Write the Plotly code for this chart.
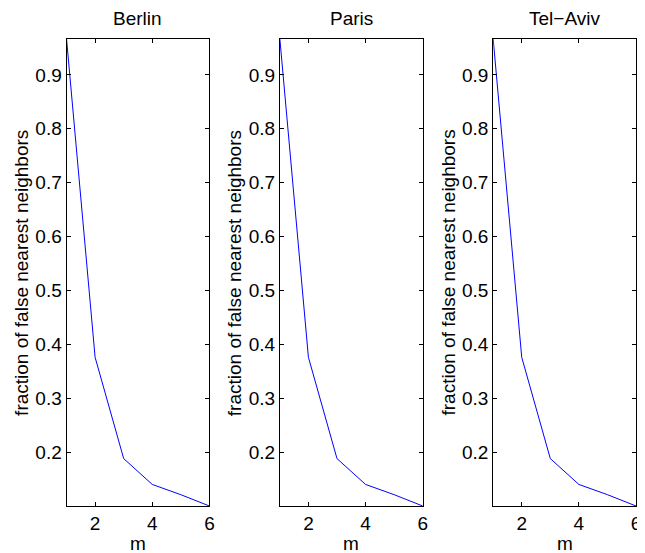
import plotly.graph_objects as go

cities = ["Berlin", "Paris", "Tel\u2212Aviv"]
m_values = [1, 2, 3, 4, 5, 6]
fnn_berlin = [0.967, 0.376, 0.188, 0.140, 0.121, 0.100]
fnn_paris = [0.967, 0.376, 0.188, 0.140, 0.121, 0.100]
fnn_telaviv = [0.967, 0.376, 0.188, 0.140, 0.121, 0.100]
series = [fnn_berlin, fnn_paris, fnn_telaviv]
x_ticks = [2, 4, 6]
y_ticks = [0.2, 0.3, 0.4, 0.5, 0.6, 0.7, 0.8, 0.9]
x_label = "m"
y_label = "fraction of false nearest neighbors"

# page body has an 8px margin; work in window pixels and convert
OFF = 8
W, H = 645 - OFF, 553 - OFF
lefts = [67, 282, 497]
ax_w = 144
top_px, bot_px = 39, 506


def px(x):
    return (x - OFF) / W


def py(y):
    return 1 - (y - OFF) / H


FONT = "Liberation Sans, Arial, Helvetica, sans-serif"
TICK_SIZE = 19
TEXT_SIZE = 19

fig = go.Figure()
annotations = []
for i, (city, vals) in enumerate(zip(cities, series)):
    k = "" if i == 0 else str(i + 1)
    fig.add_trace(go.Scatter(x=m_values, y=vals, mode="lines",
                             line=dict(color="#0000ff", width=1),
                             xaxis="x" + k, yaxis="y" + k, showlegend=False,
                             cliponaxis=False))
    common = dict(showline=True, linecolor="black", linewidth=1, mirror="ticks",
                  ticks="inside", ticklen=4, tickcolor="black", showgrid=False,
                  zeroline=False, tickfont=dict(family=FONT, size=TICK_SIZE, color="black"))
    fig.layout["xaxis" + k] = dict(domain=[px(lefts[i]), px(lefts[i] + ax_w)], range=[1, 6],
                                   tickvals=x_ticks, anchor="y" + k, **common)
    fig.layout["yaxis" + k] = dict(domain=[py(bot_px), py(top_px)], range=[0.1, 0.9667],
                                   tickvals=y_ticks,
                                   ticktext=[f"{v:.1f}" for v in y_ticks],
                                   anchor="x" + k, **common)
    cx = px(lefts[i] + ax_w / 2)
    annotations.append(dict(text=city, x=cx, y=py(18), xref="paper", yref="paper",
                            xanchor="center", yanchor="middle", showarrow=False,
                            font=dict(family=FONT, size=TEXT_SIZE, color="black")))
    annotations.append(dict(text=x_label, x=cx, y=py(543), xref="paper", yref="paper",
                            xanchor="center", yanchor="middle", showarrow=False,
                            font=dict(family=FONT, size=TEXT_SIZE, color="black")))
    annotations.append(dict(text=y_label, x=px(lefts[i] - 46), y=py(273),
                            xref="paper", yref="paper", textangle=-90,
                            xanchor="center", yanchor="middle", showarrow=False,
                            font=dict(family=FONT, size=TEXT_SIZE, color="black")))

fig.update_layout(width=W, height=H, margin=dict(l=0, r=0, t=0, b=0),
                  plot_bgcolor="white", paper_bgcolor="white",
                  annotations=annotations)
fig.write_html("out.html")
